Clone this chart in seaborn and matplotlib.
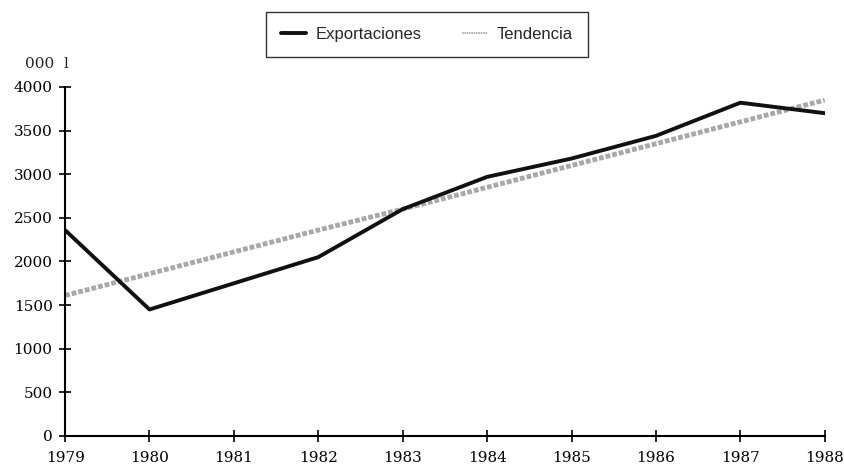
import pandas as pd
import matplotlib
matplotlib.use("Agg")
import matplotlib.pyplot as plt
import seaborn as sns

# values (000 l)
years = [1979, 1980, 1981, 1982, 1983, 1984, 1985, 1986, 1987, 1988]
exportaciones = [2360, 1450, 1750, 2050, 2600, 2970, 3180, 3440, 3820, 3700]
tendencia = [1610, 1860, 2110, 2360, 2600, 2850, 3100, 3350, 3600, 3850]

df = pd.DataFrame({"year": years, "Exportaciones": exportaciones, "Tendencia": tendencia})

sns.set_style("ticks")
plt.rcParams["font.family"] = ["DejaVu Serif"]

fig = plt.figure(figsize=(8.45, 4.69), dpi=100)
ax = fig.add_axes([0.077, 0.0704, 0.899, 0.7441])

sns.lineplot(data=df, x="year", y="Tendencia", ax=ax, color="#a8a8a8",
             linewidth=3.5, linestyle=(0, (1, 0.4)), label="Tendencia")
sns.lineplot(data=df, x="year", y="Exportaciones", ax=ax, color="#111111",
             linewidth=2.8, label="Exportaciones")

ax.set_xlim(1979, 1988)
ax.set_ylim(0, 4000)
ax.set_xticks(years)
ax.set_xticklabels([str(y) for y in years])
ax.set_yticks(range(0, 4001, 500))
ax.tick_params(direction="inout", length=8, width=1.2, colors="black", labelsize=11)
ax.tick_params(axis="x", pad=7)
ax.tick_params(axis="y", pad=5)
for s in ["top", "right"]:
    ax.spines[s].set_visible(False)
for s in ["left", "bottom"]:
    ax.spines[s].set_linewidth(1.5)
    ax.spines[s].set_color("black")
ax.set_xlabel("")
ax.set_ylabel("")
ax.text(-0.053, 1.066, "000  l", transform=ax.transAxes, fontsize=11, ha="left", va="center")

handles, labels = ax.get_legend_handles_labels()
leg = ax.legend(handles[::-1], labels[::-1], loc="center", bbox_to_anchor=(0.476, 1.15),
                ncol=2, frameon=True, fancybox=False, edgecolor="black",
                prop={"family": "Liberation Sans", "size": 12}, handlelength=1.5,
                columnspacing=2.4, borderpad=0.9, handletextpad=0.6)
leg.get_frame().set_linewidth(1.0)
leg.get_lines()[1].set_linewidth(1.2)

fig.savefig("out.png", dpi=100)
